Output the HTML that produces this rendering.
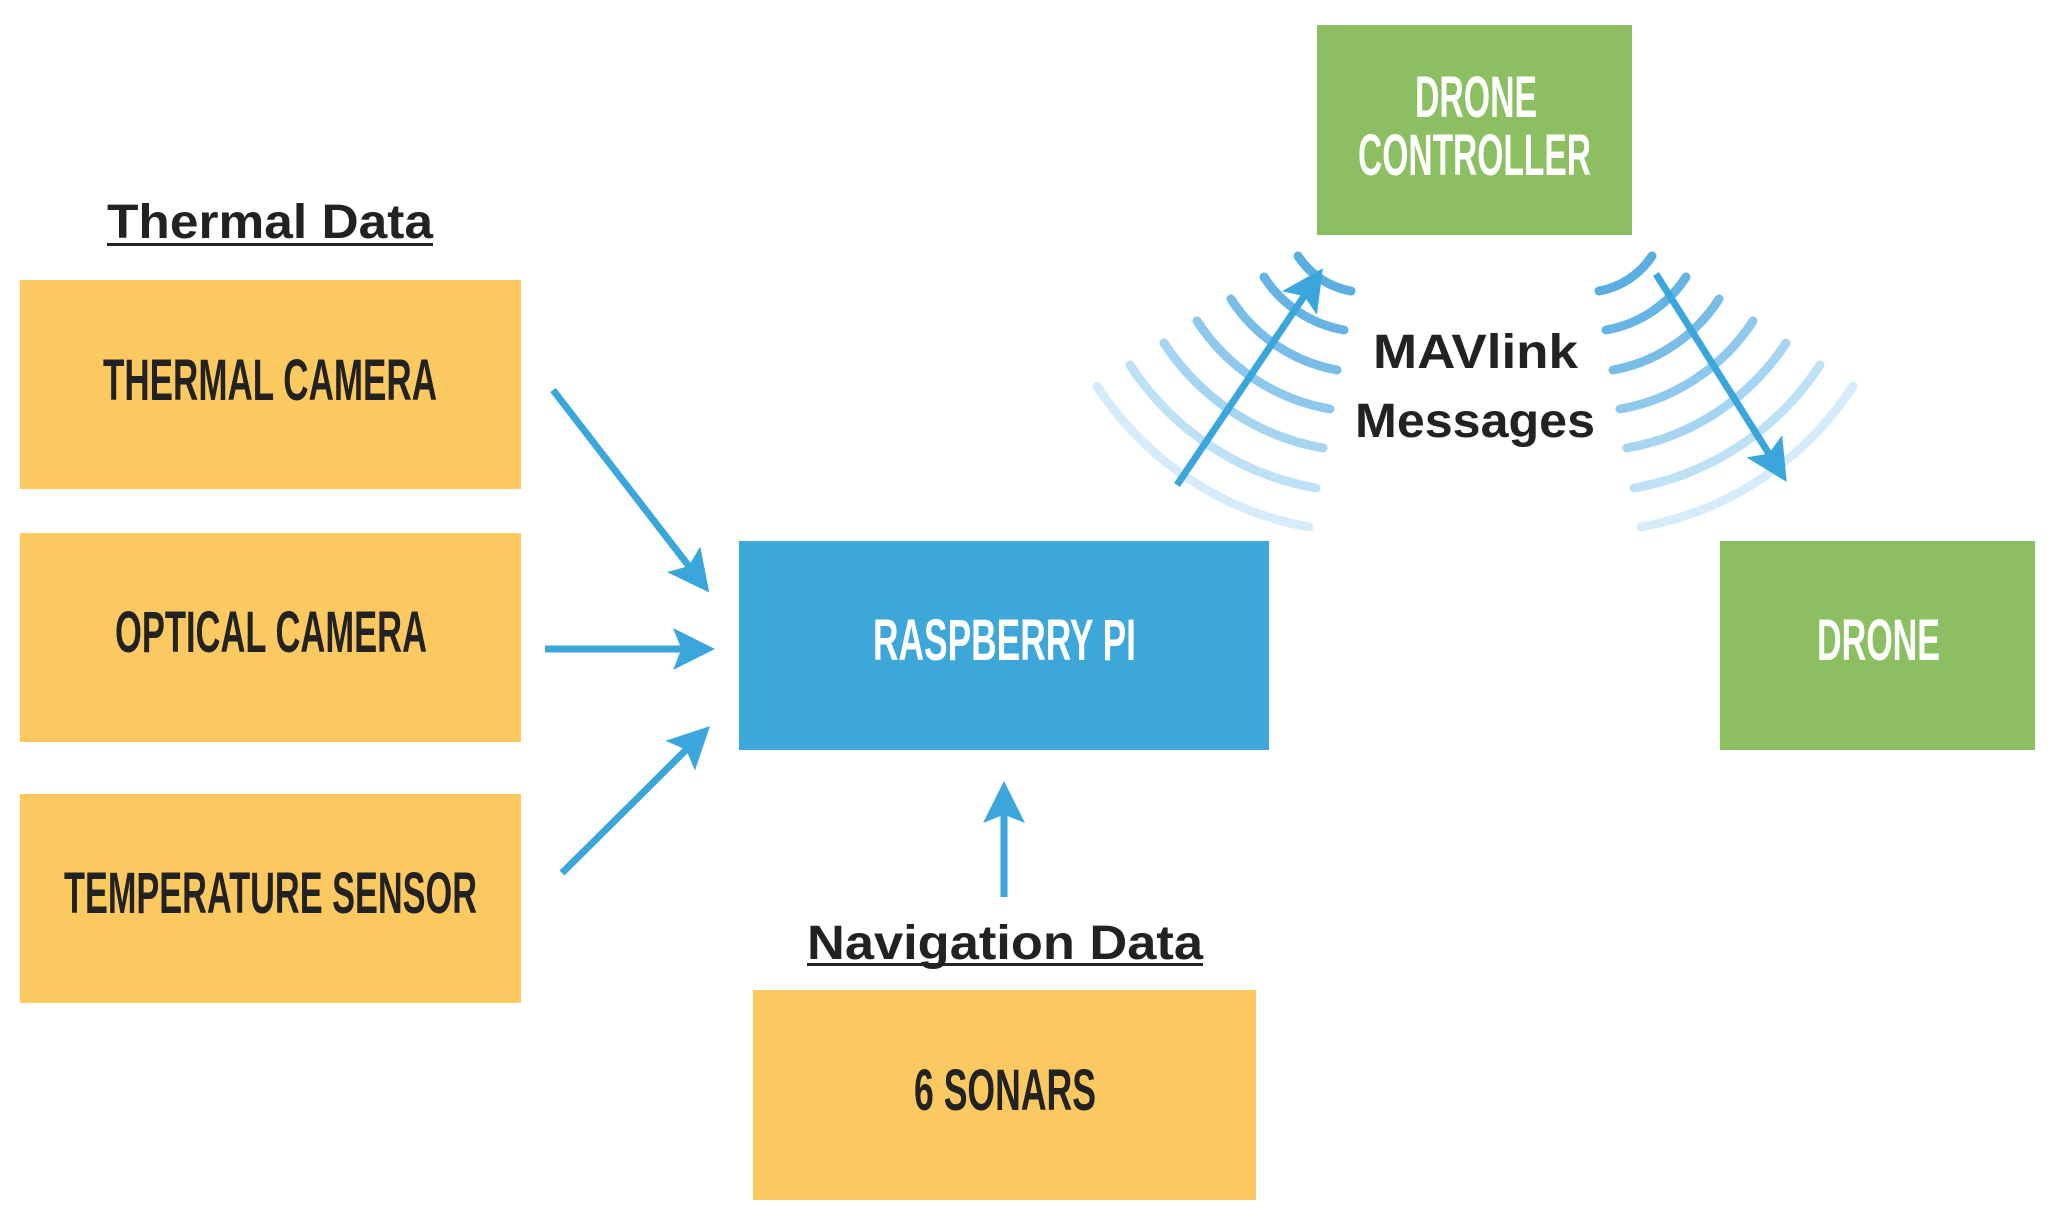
<!DOCTYPE html>
<html><head><meta charset="utf-8"><style>
html,body{margin:0;padding:0;background:#fff;}
svg{display:block;}
</style></head><body>
<svg width="2054" height="1226" viewBox="0 0 2054 1226" xmlns="http://www.w3.org/2000/svg">
<defs>
<marker id="ah" markerWidth="6" markerHeight="6" refX="5" refY="3" orient="auto" markerUnits="strokeWidth">
<path d="M0,0 L6,3 L0,6 L1.2,3 Z" fill="#3ba6db"/>
</marker>
</defs>
<rect width="2054" height="1226" fill="#fff"/>
<!-- boxes -->
<rect x="20" y="280" width="501" height="209" fill="#fcc961"/>
<rect x="20" y="533" width="501" height="209" fill="#fcc961"/>
<rect x="20" y="794" width="501" height="209" fill="#fcc961"/>
<rect x="739" y="541" width="530" height="209" fill="#3ea7d9"/>
<rect x="753" y="990" width="503" height="210" fill="#fcc961"/>
<rect x="1317" y="25" width="315" height="210" fill="#8bbf62"/>
<rect x="1720" y="541" width="315" height="209" fill="#8bbf62"/>
<g font-family="Liberation Sans, sans-serif" font-weight="bold" font-size="58" fill="#222">
<text x="103" y="400" textLength="334" lengthAdjust="spacingAndGlyphs">THERMAL CAMERA</text>
<text x="115" y="652" textLength="312" lengthAdjust="spacingAndGlyphs">OPTICAL CAMERA</text>
<text x="64" y="913" textLength="413" lengthAdjust="spacingAndGlyphs">TEMPERATURE SENSOR</text>
<text x="914" y="1110" textLength="182" lengthAdjust="spacingAndGlyphs">6 SONARS</text>
<text x="873" y="660" textLength="263" lengthAdjust="spacingAndGlyphs" fill="#fff">RASPBERRY PI</text>
<text x="1817" y="660" textLength="123" lengthAdjust="spacingAndGlyphs" fill="#fff">DRONE</text>
<text x="1415" y="117" textLength="122" lengthAdjust="spacingAndGlyphs" fill="#fff">DRONE</text>
<text x="1358" y="175" textLength="233" lengthAdjust="spacingAndGlyphs" fill="#fff">CONTROLLER</text>
</g>
<g font-family="Liberation Sans, sans-serif" font-weight="bold" font-size="48" fill="#222">
<text x="107" y="238" textLength="326" lengthAdjust="spacingAndGlyphs">Thermal Data</text>
<rect x="107" y="243" width="326" height="3" fill="#222"/>
<text x="807" y="959" textLength="396" lengthAdjust="spacingAndGlyphs">Navigation Data</text>
<rect x="807" y="963" width="396" height="3" fill="#222"/>
<text x="1373" y="368" textLength="205" lengthAdjust="spacingAndGlyphs">MAVlink</text>
<text x="1355" y="437" textLength="240" lengthAdjust="spacingAndGlyphs">Messages</text>
</g>
<!-- waves -->
<g fill="none" stroke-width="9" stroke-linecap="round">
<path d="M1298,256 A80,80 0 0 0 1351,291" stroke="#5aaee2"/>
<path d="M1264,277 A120,120 0 0 0 1344,330" stroke="#66b4e5"/>
<path d="M1231,299 A160,160 0 0 0 1337,370" stroke="#78bde8"/>
<path d="M1197,321 A200,200 0 0 0 1330,409" stroke="#8ec9ed"/>
<path d="M1164,343 A240,240 0 0 0 1323,448" stroke="#a6d5f2"/>
<path d="M1130,365 A280,280 0 0 0 1316,488" stroke="#bfe1f6"/>
<path d="M1097,386 A320,320 0 0 0 1309,527" stroke="#d7ecfa"/>
<path d="M1652,256 A80,80 0 0 1 1599,291" stroke="#5aaee2"/>
<path d="M1686,277 A120,120 0 0 1 1606,330" stroke="#66b4e5"/>
<path d="M1719,299 A160,160 0 0 1 1613,370" stroke="#78bde8"/>
<path d="M1753,321 A200,200 0 0 1 1620,409" stroke="#8ec9ed"/>
<path d="M1786,343 A240,240 0 0 1 1627,448" stroke="#a6d5f2"/>
<path d="M1820,365 A280,280 0 0 1 1634,488" stroke="#bfe1f6"/>
<path d="M1853,386 A320,320 0 0 1 1641,527" stroke="#d7ecfa"/>
</g>
<!-- arrows -->
<g stroke="#3ba6db" stroke-width="7" fill="none" marker-end="url(#ah)">
<line x1="553" y1="390" x2="705" y2="587"/>
<line x1="545" y1="649" x2="708" y2="649"/>
<line x1="562" y1="873" x2="705" y2="731"/>
<line x1="1004" y1="897" x2="1004" y2="788"/>
<line x1="1177" y1="485" x2="1319" y2="274"/>
<line x1="1656" y1="274" x2="1783" y2="476"/>
</g>
</svg>
</body></html>
